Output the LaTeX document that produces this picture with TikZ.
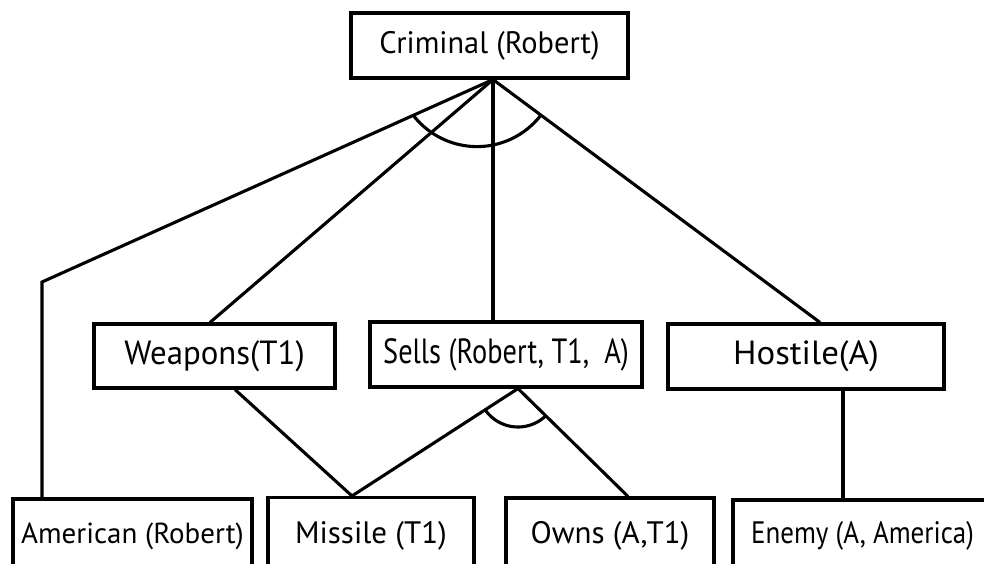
\documentclass[tikz,border=0pt]{standalone}
\usepackage{graphicx}
\usepackage{fontspec}
\setmainfont{PT Sans}
\newcommand{\fsz}[1]{\fontsize{#1}{#1}\selectfont}
\newcommand{\narrowtxt}[2]{\scalebox{#1}[1]{#2}}
\begin{document}
\begin{tikzpicture}[x=1pt,y=-1pt,
  box/.style={draw, line width=3.1pt, inner sep=0pt},
  link/.style={line width=3.1pt}]
\useasboundingbox (0,0) rectangle (984,564);
\clip (0,0) rectangle (984,564);
% nodes
\node[box, minimum width=277pt, minimum height=65pt, font=\fsz{31}] (crim) at (489.5,45.5) {\narrowtxt{0.98}{Criminal (Robert)}};
\node[box, minimum width=241pt, minimum height=64pt, font=\fsz{33.5}] (weap) at (214.5,356) {\narrowtxt{0.98}{Weapons(T1)}};
\node[box, minimum width=272pt, minimum height=65pt, font=\fsz{35}] (sells) at (506,354.5) {\narrowtxt{0.81}{Sells (Robert, T1,\ \ A)}};
\node[box, minimum width=276pt, minimum height=65pt, font=\fsz{33.5}] (host) at (806,356.5) {\narrowtxt{1.04}{Hostile(A)}};
\node[box, minimum width=239pt, minimum height=74pt, font=\fsz{29}] (amer) at (132.5,536) {American (Robert)};
\node[box, minimum width=206pt, minimum height=77pt, font=\fsz{31}] (miss) at (371,536) {Missile (T1)};
\node[box, minimum width=208pt, minimum height=76pt, font=\fsz{31}] (owns) at (610,536) {Owns (A,T1)};
\node[box, minimum width=259pt, minimum height=72pt, font=\fsz{31}] (enemy) at (862.5,536) {\narrowtxt{0.87}{Enemy (A, America)}};
% connectors
\coordinate (apex) at ([xshift=3.5pt]crim.south);
\coordinate (bend) at (42,282);
\coordinate (sapex) at ([xshift=12pt]sells.south);
\draw[link] (apex) -- (bend) -- (bend |- amer.north);
\draw[link] (apex) -- ([xshift=-4.5pt]weap.north);
\draw[link] (apex) -- (apex |- sells.north);
\draw[link] (apex) -- ([xshift=14pt]host.north);
\draw[link] ([xshift=20.5pt]weap.south) -- ([xshift=-19pt]miss.north);
\draw[link] (sapex) -- ([xshift=-19pt]miss.north);
\draw[link] (sapex) -- ([xshift=18pt]owns.north);
\draw[link] ([xshift=37pt]host.south) -- ([xshift=37pt]host.south |- enemy.north);
% and-arcs
\draw[link] plot[domain=37.4:142.6, samples=40, smooth] ({477+80.6*cos(\x)},{66+80.6*sin(\x)});
\draw[link] plot[domain=45:146.5, samples=30, smooth] ({518+40*cos(\x)},{387+40*sin(\x)});
\end{tikzpicture}
\end{document}
